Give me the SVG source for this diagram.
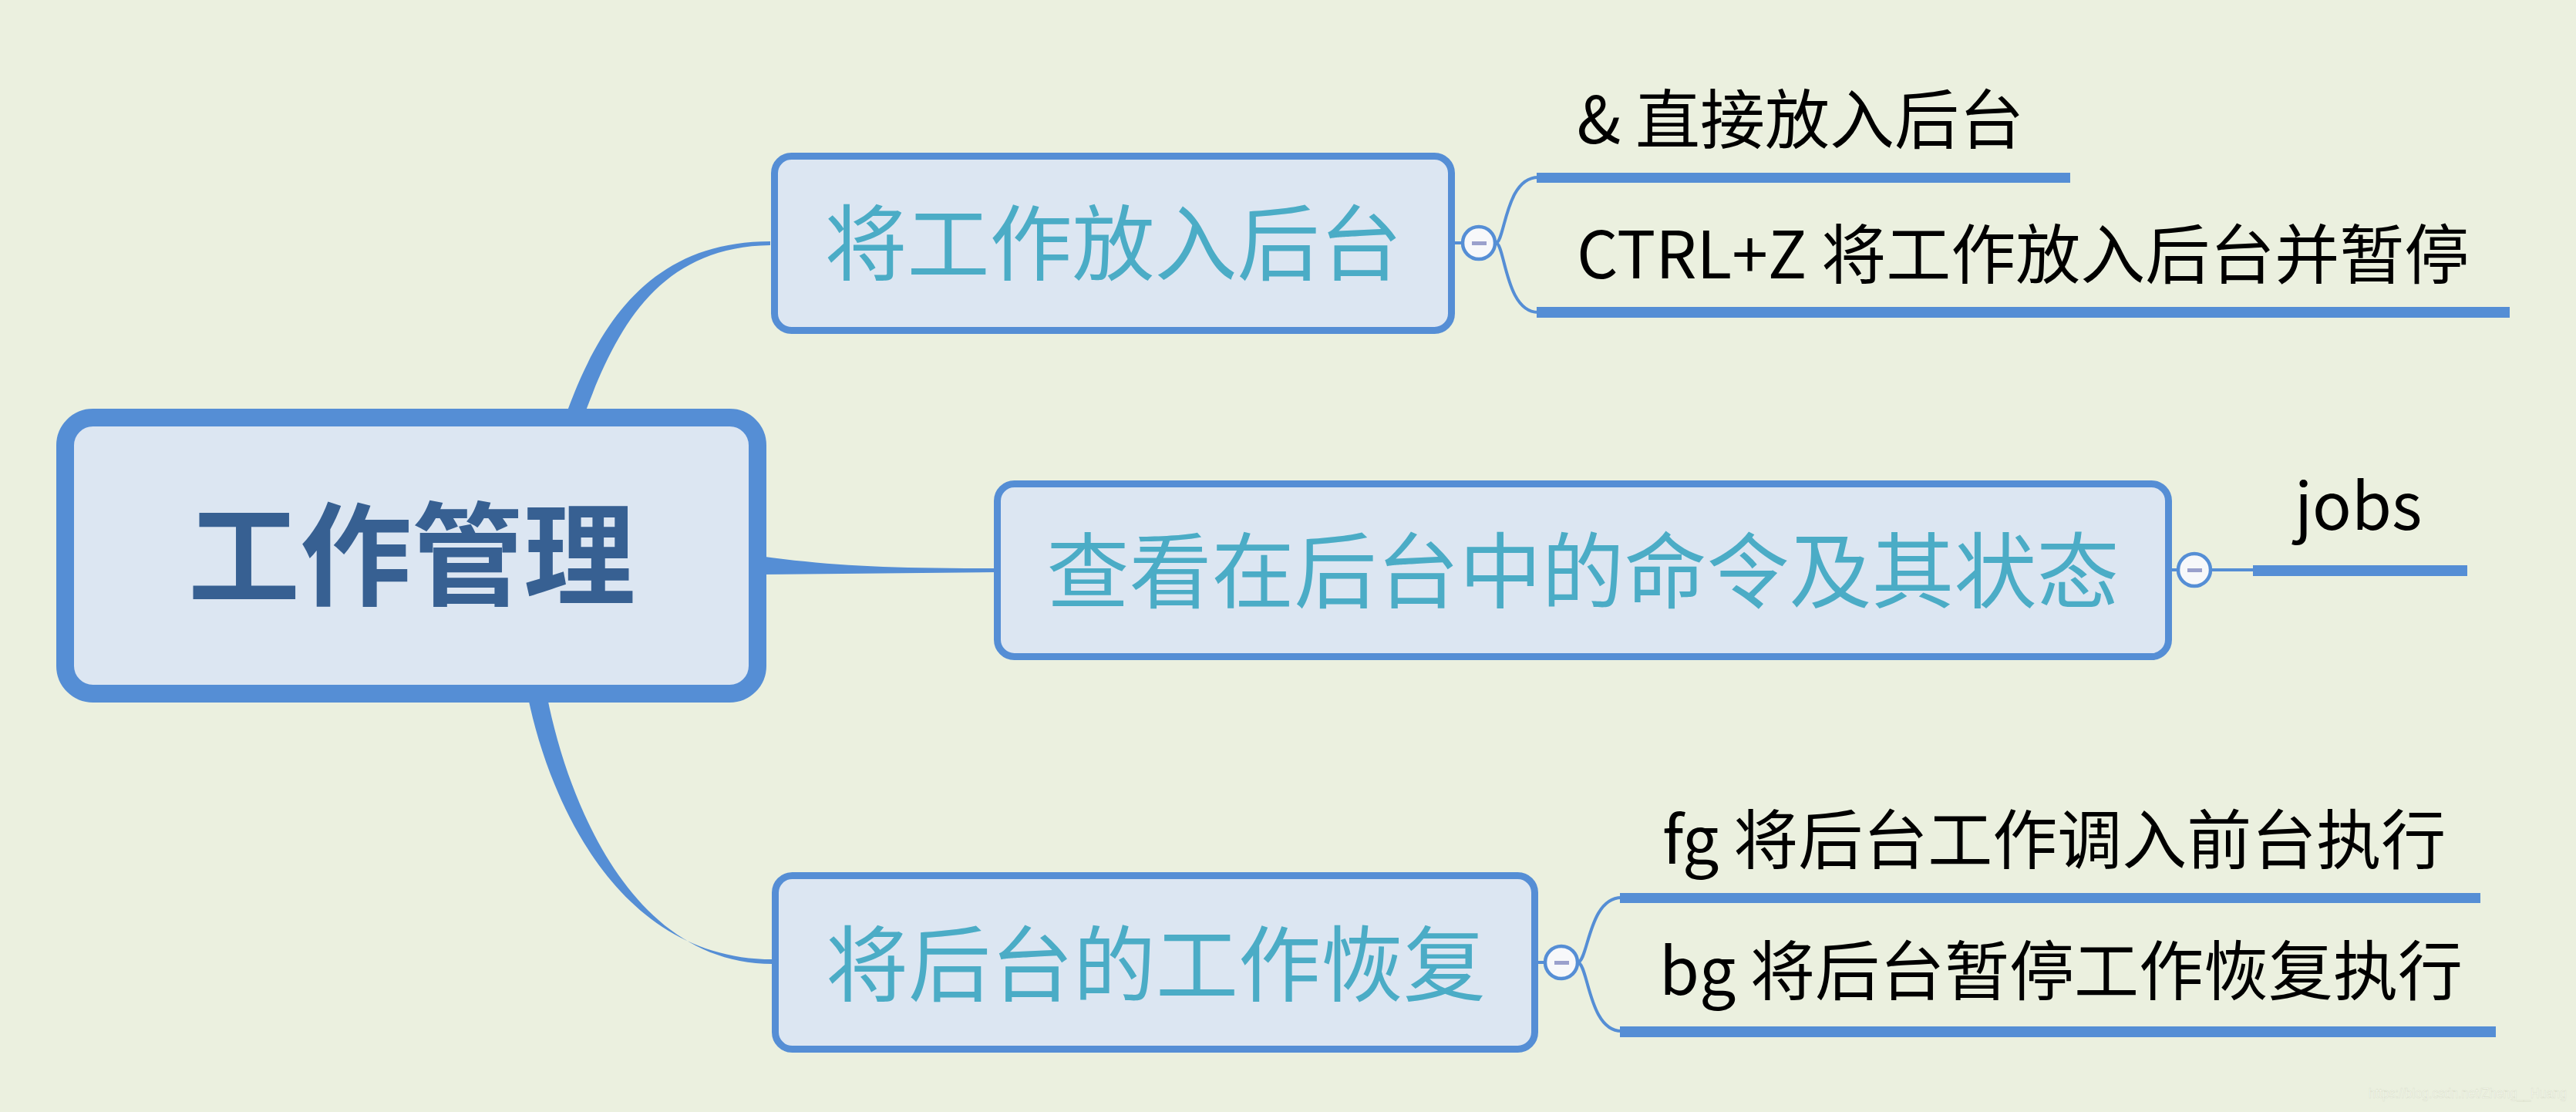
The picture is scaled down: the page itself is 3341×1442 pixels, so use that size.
<svg xmlns="http://www.w3.org/2000/svg" width="3341" height="1442" viewBox="0 0 3341 1442">
<style>
.bg{fill:#EBF0DF}
.box{fill:#DCE6F2;stroke:#558ED5;stroke-width:9}
.root{fill:#DCE6F2;stroke:#558ED5;stroke-width:23}
.wedge{fill:#558ED5}
.thin{fill:none;stroke:#558ED5;stroke-width:4}
.bar{fill:#558ED5}
.btn{fill:#F7F8FA;stroke:#558ED5;stroke-width:4.5}
.minus{fill:#9AA0CC}
.t-root{font-family:"Noto Sans CJK SC","Noto Sans",sans-serif;font-weight:bold;font-size:145px;fill:#376092;text-anchor:middle}
.t-main{font-family:"Noto Sans CJK SC","Noto Sans",sans-serif;font-size:107px;fill:#4BACC6;text-anchor:middle}
.t-sub{font-family:"Noto Sans CJK SC","Noto Sans",sans-serif;font-size:84px;fill:#000000}
.wm{font-family:"Liberation Sans",Arial,sans-serif;font-size:19px;fill:#F8FAF2;stroke:#DADFCB;stroke-width:0.6}
</style>
<rect class="bg" x="0" y="0" width="3341" height="1442"/>

<g id="connectors">
  <path class="wedge" d="M735,535 C778,418 845,313 999,313 L999,318 C855,320 800,425 759,535 Z"/>
  <path class="wedge" d="M985,721 C1080,734 1150,737 1292,737 L1292,742 L985,745 Z"/>
  <path class="wedge" d="M685,905 C712,1035 800,1244 1002,1244 L1002,1250 C815,1250 735,1030 710,905 Z"/>
  <line class="thin" x1="1885" y1="315" x2="1898" y2="315"/>
  <path class="thin" d="M1940,315 C1952,315 1952,230 1995,230"/>
  <path class="thin" d="M1940,315 C1952,315 1952,405 1995,405"/>
  <line class="thin" x1="2815" y1="739" x2="2826" y2="739"/>
  <line class="thin" x1="2866" y1="739" x2="2924" y2="739"/>
  <line class="thin" x1="1993" y1="1248" x2="2005" y2="1248"/>
  <path class="thin" d="M2046,1248 C2060,1248 2060,1164 2103,1164"/>
  <path class="thin" d="M2046,1248 C2060,1248 2060,1337 2103,1337"/>
</g>

<g id="node-root">
  <rect class="root" x="84.5" y="541.5" width="898" height="358" rx="36"/>
  <text class="t-root" x="534" y="774">工作管理</text>
</g>

<g id="node-1">
  <rect class="box" x="1004.5" y="202.5" width="878" height="226" rx="22"/>
  <text class="t-main" x="1444" y="355">将工作放入后台</text>
</g>
<g id="btn-1">
  <circle class="btn" cx="1918" cy="315" r="21"/>
  <rect class="minus" x="1909" y="313" width="19" height="5"/>
</g>

<g id="node-2">
  <rect class="box" x="1293.5" y="627.5" width="1519" height="224" rx="22"/>
  <text class="t-main" x="2053" y="780">查看在后台中的命令及其状态</text>
</g>
<g id="btn-2">
  <circle class="btn" cx="2846" cy="739" r="21"/>
  <rect class="minus" x="2837" y="737" width="19" height="5"/>
</g>

<g id="node-3">
  <rect class="box" x="1005.5" y="1135.5" width="985" height="225" rx="22"/>
  <text class="t-main" x="1499" y="1290">将后台的工作恢复</text>
</g>
<g id="btn-3">
  <circle class="btn" cx="2025" cy="1248" r="21"/>
  <rect class="minus" x="2016" y="1246" width="19" height="5"/>
</g>

<g id="node-1-1">
  <text class="t-sub" x="2045" y="186">&amp; 直接放入后台</text>
  <rect class="bar" x="1993" y="224" width="692" height="13"/>
</g>
<g id="node-1-2">
  <text class="t-sub" x="2045" y="361">CTRL+Z 将工作放入后台并暂停</text>
  <rect class="bar" x="1993" y="398" width="1262" height="14"/>
</g>
<g id="node-2-1">
  <text class="t-sub" x="2976" y="687">jobs</text>
  <rect class="bar" x="2922" y="733" width="278" height="14"/>
</g>
<g id="node-3-1">
  <text class="t-sub" x="2156" y="1120">fg 将后台工作调入前台执行</text>
  <rect class="bar" x="2101" y="1158" width="1116" height="13"/>
</g>
<g id="node-3-2">
  <text class="t-sub" x="2152" y="1290">bg 将后台暂停工作恢复执行</text>
  <rect class="bar" x="2101" y="1331" width="1136" height="14"/>
</g>

<text class="wm" x="3072" y="1424" textLength="257" lengthAdjust="spacingAndGlyphs">https://blog.csdn.net/Zheng__Huang</text>
</svg>
